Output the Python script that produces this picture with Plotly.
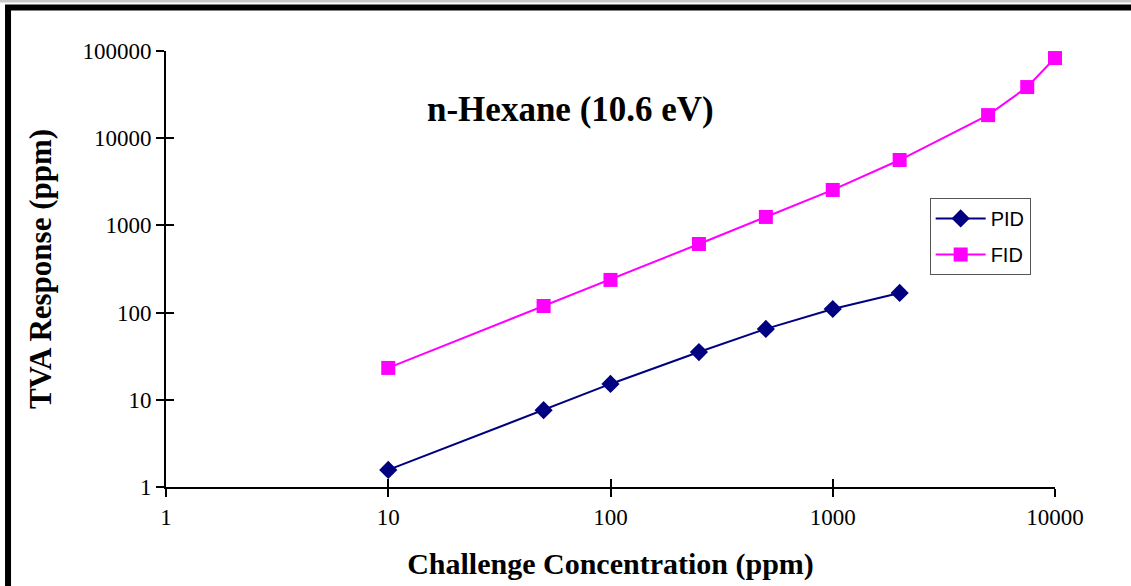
import plotly.graph_objects as go

# challenge concentration (ppm) and TVA response (ppm)
pid_x = [10, 50, 100, 250, 500, 1000, 2000]
pid_y = [1.57, 7.6, 15.2, 35.3, 65, 110, 168]
fid_x = [10, 50, 100, 250, 500, 1000, 2000, 5000, 7500, 10000]
fid_y = [23.2, 119, 237, 612, 1250, 2550, 5620, 18400, 38600, 83000]

x_ticks = [1, 10, 100, 1000, 10000]
y_ticks = [1, 10, 100, 1000, 10000, 100000]

serif = "Liberation Serif, Times New Roman, serif"

fig = go.Figure()
fig.add_trace(go.Scatter(x=pid_x, y=pid_y, mode="lines+markers", name="PID", legendgroup="pid",
                         line=dict(color="#000080", width=2), cliponaxis=False,
                         marker=dict(symbol="diamond", size=14, color="#000080")))
fig.add_trace(go.Scatter(x=fid_x, y=fid_y, mode="lines+markers", name="FID", legendgroup="fid",
                         line=dict(color="#FF00FF", width=2), cliponaxis=False,
                         marker=dict(symbol="square", size=14, color="#FF00FF")))

axis_common = dict(showgrid=False, zeroline=False, showline=True, linecolor="black",
                   linewidth=2, ticks="outside", ticklen=8, tickwidth=2, tickcolor="black",
                   tickfont=dict(family=serif, size=23, color="black"))

fig.update_layout(
    width=1131, height=586,
    margin=dict(l=166, r=76, t=51, b=99),
    paper_bgcolor="white", plot_bgcolor="white",
    showlegend=True,
    legend=dict(x=0.859, y=0.663, xanchor="left", yanchor="top",
                bordercolor="#555555", borderwidth=1, bgcolor="white",
                font=dict(family="Liberation Sans, Arial, sans-serif", size=20, color="black"),
                tracegroupgap=7, itemwidth=50),
    xaxis=dict(type="log", range=[0, 4], tickvals=x_ticks, ticktext=[str(v) for v in x_ticks],
               title=dict(text="<b>Challenge Concentration (ppm)</b>", standoff=24,
                          font=dict(family=serif, size=30, color="black")),
               **axis_common),
    yaxis=dict(type="log", range=[0, 5], tickvals=y_ticks, ticktext=[str(v) for v in y_ticks],
               title=dict(text="<b>TVA Response (ppm)</b>", standoff=22,
                          font=dict(family=serif, size=31, color="black")),
               **axis_common),
    # overlay axes that draw the inner half of the crossing tick marks
    xaxis2=dict(type="log", range=[0, 4], overlaying="x", anchor="y", side="bottom",
                tickvals=x_ticks, showticklabels=False, ticks="inside", ticklen=8,
                tickwidth=2, tickcolor="black", showgrid=False, zeroline=False),
    yaxis2=dict(type="log", range=[0, 5], overlaying="y", anchor="x", side="left",
                tickvals=y_ticks, showticklabels=False, ticks="inside", ticklen=8,
                tickwidth=2, tickcolor="black", showgrid=False, zeroline=False),
)

# invisible trace so the overlay axes are drawn
fig.add_trace(go.Scatter(x=[1], y=[1], xaxis="x2", yaxis="y2", mode="markers",
                         marker=dict(opacity=0), showlegend=False, hoverinfo="skip"))

fig.add_annotation(text="<b>n-Hexane (10.6 eV)</b>", xref="paper", yref="paper",
                   x=0.455, y=0.915, showarrow=False,
                   font=dict(family=serif, size=35, color="black"))

# outer frame of the chart area
fig.add_shape(type="line", xref="paper", yref="paper", x0=-0.2, y0=1.1147, x1=1.2, y1=1.1147,
              line=dict(color="#c8c8c8", width=3), layer="below")
fig.add_shape(type="rect", xref="paper", yref="paper", x0=-0.1777, y0=-0.4, x1=1.2, y1=1.0998,
              line=dict(color="black", width=6), layer="below")

fig.write_html("out.html", config={"displayModeBar": False},
               post_script="document.body.style.margin='0';")
